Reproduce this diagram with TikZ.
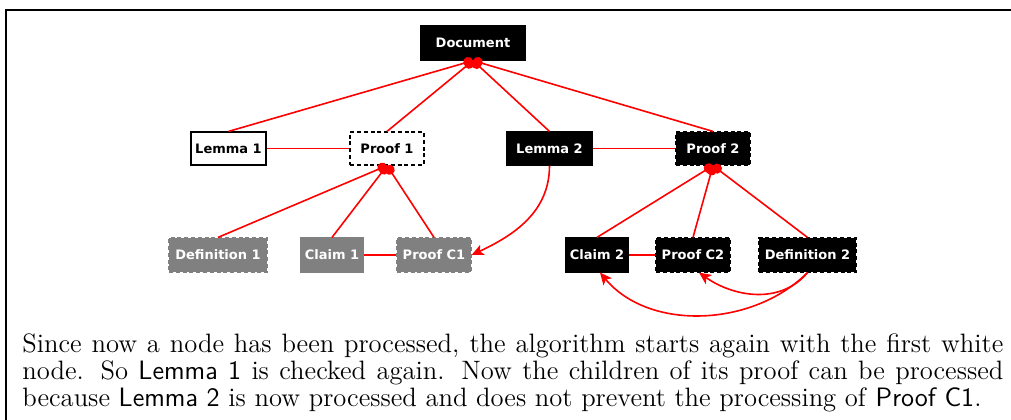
\documentclass[tikz,border=0pt]{standalone}
\usepackage{fontspec}
\newfontfamily\boxfont{DejaVu Sans}
\usetikzlibrary{arrows.meta}
\definecolor{procgray}{RGB}{128,128,128}
\tikzset{
  box/.style={rectangle, inner xsep=0pt, inner ysep=0pt, minimum height=17pt,
    line width=0.6pt, font=\boxfont\bfseries\fontsize{6.5}{7.5}\selectfont},
  open/.style={box, draw=black, fill=white, text=black},
  done/.style={box, draw=black, fill=black, text=white},
  grayed/.style={box, draw=procgray, fill=procgray, text=white},
  dsh/.style={dash pattern=on 2pt off 1.4pt},
  link/.style={draw=red, line width=0.8pt},
  tree/.style={link, {Circle[length=5pt]}-},
  dep/.style={link, -{Stealth[length=6pt,width=5.5pt,inset=1.5pt]}}
}
\begin{document}
\begin{tikzpicture}[x=0.5pt, y=-0.5pt]
\useasboundingbox (0,0) rectangle (1011,419);
% frame
\draw[line width=1pt] (1020,10) -- (6,10) -- (6,430);

% nodes
\node[done, minimum width=52pt] (doc) at (473,43) {Document};
\node[open, minimum width=37.5pt, minimum height=16.5pt] (l1) at (228.5,148.5) {Lemma 1};
\node[open, dsh, minimum width=37pt, minimum height=16.5pt] (p1) at (387,148.5) {Proof 1};
\node[done, minimum width=42.5pt, minimum height=16.5pt] (l2) at (549.5,148.5) {Lemma 2};
\node[done, dsh, minimum width=37pt, minimum height=16.5pt] (p2) at (713,148.5) {Proof 2};
\node[grayed, dsh, minimum width=49pt] (d1) at (218,255) {Definition 1};
\node[grayed, minimum width=31pt] (c1) at (332,255) {Claim 1};
\node[grayed, dsh, minimum width=37pt] (pc1) at (434,255) {Proof C1};
\node[done, minimum width=31pt] (c2) at (597,255) {Claim 2};
\node[done, dsh, minimum width=37pt] (pc2) at (693,255) {Proof C2};
\node[done, dsh, minimum width=48.5pt] (d2) at (807.5,255) {Definition 2};

% tree edges
\foreach \c in {l1,p1,l2,p2} \draw[tree] (doc.south) -- (\c.north);
\foreach \c in {d1,c1,pc1} \draw[tree] (p1.south) -- (\c.north);
\foreach \c in {c2,pc2,d2} \draw[tree] (p2.south) -- (\c.north);

% lemma/proof and claim/proof links
\draw[link] (l1) -- (p1);
\draw[link] (l2) -- (p2);
\draw[link] (c1) -- (pc1);
\draw[link] (c2) -- (pc2);

% dependencies
\draw[dep] (l2.south) to[out=-90, in=25] (pc1.east);
\draw[dep] (d2.south) to[out=-130, in=-35] ([xshift=3pt]pc2.south);
\draw[dep] (d2.south) to[out=-135, in=-50, looseness=0.95] ([xshift=1.5pt]c2.south);

% explanatory paragraph
\node[anchor=north west, inner sep=0pt, text width=490.5pt, align=justify,
  font=\fontsize{13.3}{13.6}\selectfont] (txt) at (22,333)
  {Since now a node has been processed, the algorithm starts again with the first white\linebreak
   node. So \textsf{Lemma 1} is checked again. Now the children of its proof can be processed\linebreak
   because \textsf{Lemma 2} is now processed and does not prevent the processing of \textsf{Proof C1}.};
\end{tikzpicture}
\end{document}
